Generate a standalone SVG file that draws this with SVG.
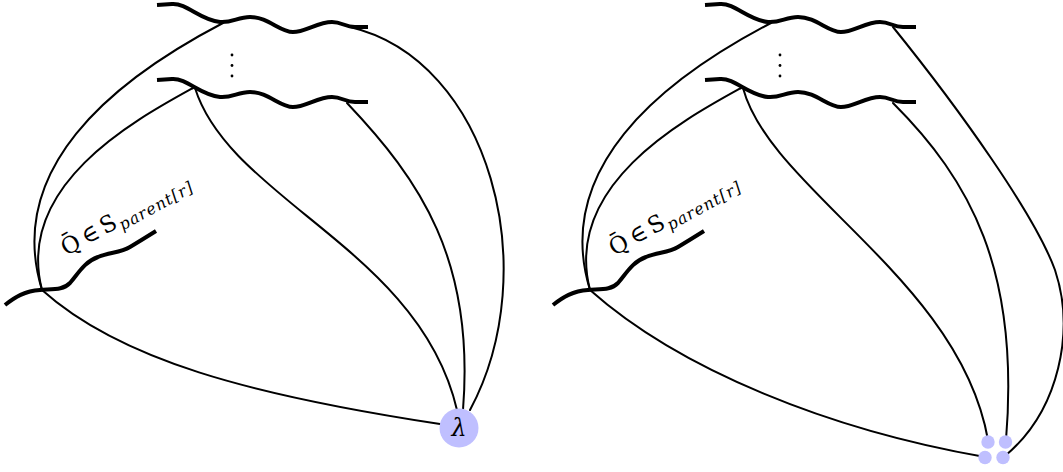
<svg xmlns="http://www.w3.org/2000/svg" width="1063" height="472" viewBox="0 0 1063 472">
<style>
.edge{fill:none;stroke:#000;stroke-width:2;stroke-linecap:round}
.wave{fill:none;stroke:#000;stroke-width:4}
.node{fill:#bfbfff}
.vd{fill:#000}
.lbl{font-family:"DejaVu Serif","Liberation Serif",serif;font-size:23px;fill:#000}
.sub{font-family:"DejaVu Serif","Liberation Serif",serif;font-style:italic;font-size:16px;fill:#000}
.lam{font-family:"DejaVu Serif","Liberation Serif",serif;font-style:italic;font-size:24px;text-anchor:middle;fill:#000}
</style>
<defs>
<path id="w1" d="M157,5 L172,4 C187,3 200,20 220,22 C232,23 238,17 250,17 C268,17 280,32 293,32 C305,32 318,22 332,22 C342,22 345,27 355,27 L368,27"/>
<path id="wq" d="M5,305 C15,297 25,291 40,290 C55,289 63,290 70,283 C78,274 84,262 98,257 C110,252 120,253 130,247 C140,241 148,236 156,231"/>
</defs>
<g id="connectors">
<path class="edge" d="M223,23 C110,82 5,170 42,290"/>
<path class="edge" d="M193,88 C135,120 15,185 42,290"/>
<path class="edge" d="M195,88 C230,200 420,250 457,410"/>
<path class="edge" d="M347,103 C420,180 475,260 463,410"/>
<path class="edge" d="M350,27 C490,60 545,270 470,410"/>
<path class="edge" d="M42,290 C120,360 250,395 440,424"/>
<path class="edge" d="M771,23 C658,82 553,170 590,290"/>
<path class="edge" d="M741,88 C683,120 563,185 590,290"/>
<path class="edge" d="M743,88 C770,190 960,280 988,440"/>
<path class="edge" d="M893,103 C970,180 1020,270 1006,440"/>
<path class="edge" d="M893,27 C960,110 1035,215 1055,270 C1075,330 1060,410 1005,456"/>
<path class="edge" d="M590,290 C680,370 830,430 985,457"/>
</g>
<g id="left-top-wave"><use href="#w1" class="wave"/></g>
<g id="left-mid-wave"><use href="#w1" class="wave" transform="translate(0,75)"/></g>
<g id="left-vdots"><circle class="vd" cx="232" cy="55" r="1.4"/><circle class="vd" cx="232" cy="65.5" r="1.4"/><circle class="vd" cx="232" cy="76" r="1.4"/></g>
<g id="left-q-wave"><use href="#wq" class="wave"/></g>
<g id="left-label" transform="translate(65,257) rotate(-29)">
<text class="lbl" x="0" y="0" textLength="60" lengthAdjust="spacing">Q̄ ∈ S</text>
<text class="sub" x="63" y="5" textLength="82" lengthAdjust="spacing">parent[r]</text>
</g>
<g id="lambda"><circle class="node" cx="459" cy="428" r="19.5"/><text class="lam" x="459" y="436">λ</text></g>
<g id="right-top-wave"><use href="#w1" class="wave" transform="translate(548,0)"/></g>
<g id="right-mid-wave"><use href="#w1" class="wave" transform="translate(548,75)"/></g>
<g id="right-vdots"><circle class="vd" cx="780" cy="55" r="1.4"/><circle class="vd" cx="780" cy="65.5" r="1.4"/><circle class="vd" cx="780" cy="76" r="1.4"/></g>
<g id="right-q-wave"><use href="#wq" class="wave" transform="translate(548,0)"/></g>
<g id="right-label" transform="translate(613,257) rotate(-29)">
<text class="lbl" x="0" y="0" textLength="60" lengthAdjust="spacing">Q̄ ∈ S</text>
<text class="sub" x="63" y="5" textLength="82" lengthAdjust="spacing">parent[r]</text>
</g>
<g id="quad-dots">
<circle class="node" cx="988" cy="442" r="6.7"/>
<circle class="node" cx="1005.5" cy="442" r="6.7"/>
<circle class="node" cx="985" cy="457.5" r="6.7"/>
<circle class="node" cx="1003" cy="457.5" r="6.7"/>
</g>
</svg>
